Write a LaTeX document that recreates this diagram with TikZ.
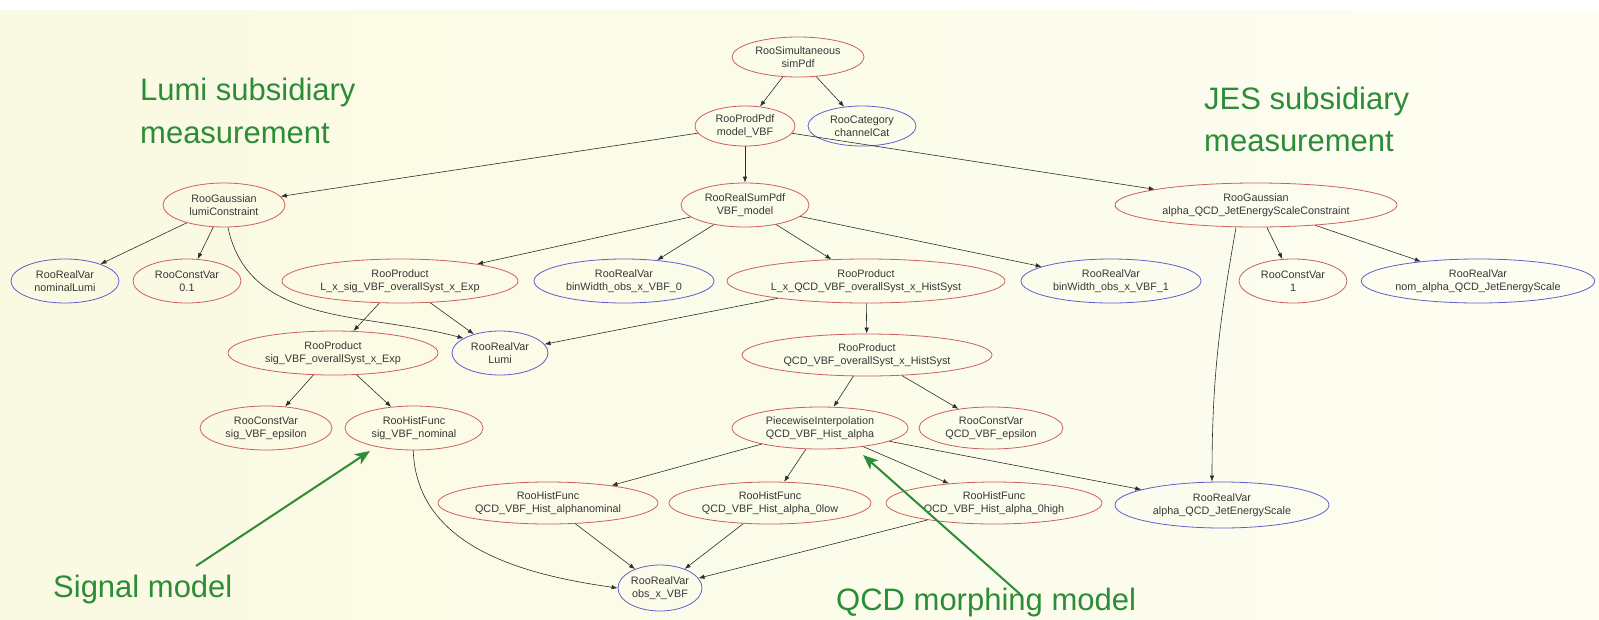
\documentclass[tikz,border=0pt]{standalone}
\usepackage{fontspec}
\setmainfont{Liberation Sans}
\usetikzlibrary{shapes.geometric,arrows.meta}

\definecolor{bgL}{RGB}{250,250,226}
\definecolor{bgR}{RGB}{253,253,242}
\definecolor{redline}{RGB}{205,95,95}
\definecolor{blueline}{RGB}{95,95,205}
\definecolor{nodetext}{RGB}{55,55,55}
\definecolor{edgecol}{RGB}{45,45,45}
\definecolor{notegreen}{RGB}{45,140,55}

\tikzset{
  rnode/.style 2 args={ellipse, draw=redline, line width=0.8pt, inner sep=0pt,
    minimum width=#1pt, minimum height=#2pt, text=nodetext, align=center,
    font=\fontsize{10.8}{13}\selectfont},
  bnode/.style 2 args={rnode={#1}{#2}, draw=blueline},
  link/.style={draw=edgecol, line width=0.6pt, -{Latex[length=6pt,width=4.5pt]}},
  note/.style={text=notegreen, inner sep=0pt, anchor=base west,
    font=\fontsize{31}{43}\selectfont},
  pointer/.style={draw=notegreen, line width=2pt,
    -{Stealth[length=15pt,width=12pt,inset=4pt]}},
}

\begin{document}
\begin{tikzpicture}[x=1pt,y=-1pt]
  % canvas
  \useasboundingbox (0,0) rectangle (1599,619);
  \shade[left color=bgL, right color=bgR] (0,0) rectangle (1599,619);
  \fill[white] (0,0) rectangle (1599,10);

  % model graph
  \node[rnode={132}{40}] (simPdf) at (798,57) {RooSimultaneous\\simPdf};
  \node[rnode={100}{40}] (model) at (745,126) {RooProdPdf\\model\_VBF};
  \node[bnode={108}{40}] (chan) at (862,126) {RooCategory\\channelCat};

  \node[rnode={122}{44}] (lumiC) at (224,205) {RooGaussian\\lumiConstraint};
  \node[rnode={128}{44}] (vbfm) at (745,205) {RooRealSumPdf\\VBF\_model};
  \node[rnode={282}{44}] (jesC) at (1256,205) {RooGaussian\\alpha\_QCD\_JetEnergyScaleConstraint};

  \node[bnode={108}{44}] (nomL) at (65,281) {RooRealVar\\nominalLumi};
  \node[rnode={108}{44}] (c01) at (187,281) {RooConstVar\\0.1};
  \node[rnode={236}{44}] (lxsig) at (400,281) {RooProduct\\L\_x\_sig\_VBF\_overallSyst\_x\_Exp};
  \node[bnode={180}{44}] (bw0) at (624,281) {RooRealVar\\binWidth\_obs\_x\_VBF\_0};
  \node[rnode={278}{44}] (lxqcd) at (866,281) {RooProduct\\L\_x\_QCD\_VBF\_overallSyst\_x\_HistSyst};
  \node[bnode={180}{44}] (bw1) at (1111,281) {RooRealVar\\binWidth\_obs\_x\_VBF\_1};
  \node[rnode={108}{44}] (c1) at (1293,281) {RooConstVar\\1};
  \node[bnode={226}{44}] (nomA) at (1478,281) {RooRealVar\\nom\_alpha\_QCD\_JetEnergyScale};

  \node[rnode={210}{44}] (sigO) at (333,353) {RooProduct\\sig\_VBF\_overallSyst\_x\_Exp};
  \node[bnode={96}{44}] (lumi) at (500,353) {RooRealVar\\Lumi};
  \node[rnode={250}{42}] (qcdO) at (867,355) {RooProduct\\QCD\_VBF\_overallSyst\_x\_HistSyst};

  \node[rnode={132}{44}] (sigE) at (266,428) {RooConstVar\\sig\_VBF\_epsilon};
  \node[rnode={138}{44}] (sigN) at (414,428) {RooHistFunc\\sig\_VBF\_nominal};
  \node[rnode={176}{42}] (pw) at (820,428) {PiecewiseInterpolation\\QCD\_VBF\_Hist\_alpha};
  \node[rnode={144}{42}] (qcdE) at (991,428) {RooConstVar\\QCD\_VBF\_epsilon};

  \node[rnode={220}{42}] (hnom) at (548,503) {RooHistFunc\\QCD\_VBF\_Hist\_alphanominal};
  \node[rnode={202}{42}] (hlow) at (770,503) {RooHistFunc\\QCD\_VBF\_Hist\_alpha\_0low};
  \node[rnode={216}{42}] (hhigh) at (994,503) {RooHistFunc\\QCD\_VBF\_Hist\_alpha\_0high};
  \node[bnode={214}{46}] (jes) at (1222,505) {RooRealVar\\alpha\_QCD\_JetEnergyScale};

  \node[bnode={84}{46}] (obs) at (660,588) {RooRealVar\\obs\_x\_VBF};

  % dependencies
  \draw[link] (simPdf) -- (model);
  \draw[link] (simPdf) -- (chan);
  \draw[link] (model) -- (lumiC);
  \draw[link] (model) -- (vbfm);
  \draw[link] (model) -- (jesC);
  \draw[link] (lumiC) -- (nomL);
  \draw[link] (lumiC) -- (c01);
  \draw[link] (lumiC.-80) to[out=-78,in=165] (lumi.158);
  \draw[link] (vbfm) -- (lxsig);
  \draw[link] (vbfm) -- (bw0);
  \draw[link] (vbfm) -- (lxqcd);
  \draw[link] (vbfm) -- (bw1);
  \draw[link] (jesC) -- (c1);
  \draw[link] (jesC) -- (nomA);
  \draw[link] ([xshift=-20pt]jesC.south) to[out=-100,in=90] ([xshift=-10pt]jes.north);
  \draw[link] (lxsig) -- (sigO);
  \draw[link] (lxsig) -- (lumi);
  \draw[link] (lxqcd) -- (lumi);
  \draw[link] (lxqcd) -- (qcdO);
  \draw[link] (sigO) -- (sigE);
  \draw[link] (sigO) -- (sigN);
  \draw[link] (sigN.-92) to[out=-88,in=172] (obs.west);
  \draw[link] (qcdO) -- (pw);
  \draw[link] (qcdO) -- (qcdE);
  \draw[link] (pw) -- (hnom);
  \draw[link] (pw) -- (hlow);
  \draw[link] (pw) -- (hhigh);
  \draw[link] (pw) -- (jes);
  \draw[link] (hnom) -- (obs);
  \draw[link] (hlow) -- (obs);
  \draw[link] (hhigh) -- (obs);

  % annotations
  \node[note] (lumiA) at (140,100) {Lumi subsidiary};
  \node[note] (lumiB) at (140,143) {measurement};
  \node[note] (jesA) at (1204,109) {JES subsidiary};
  \node[note] (jesB) at (1204,151) {measurement};
  \node[note] (sigL) at (53,597) {Signal model};
  \node[note] (qcdL) at (836,610) {QCD morphing model};

  \coordinate (sigTail) at (196,566);
  \coordinate (sigTip) at (370,451);
  \coordinate (qcdTail) at (1020,594);
  \coordinate (qcdTip) at (863,455);
  \draw[pointer] (sigTail) -- (sigTip);
  \draw[pointer] (qcdTail) -- (qcdTip);
\end{tikzpicture}
\end{document}
